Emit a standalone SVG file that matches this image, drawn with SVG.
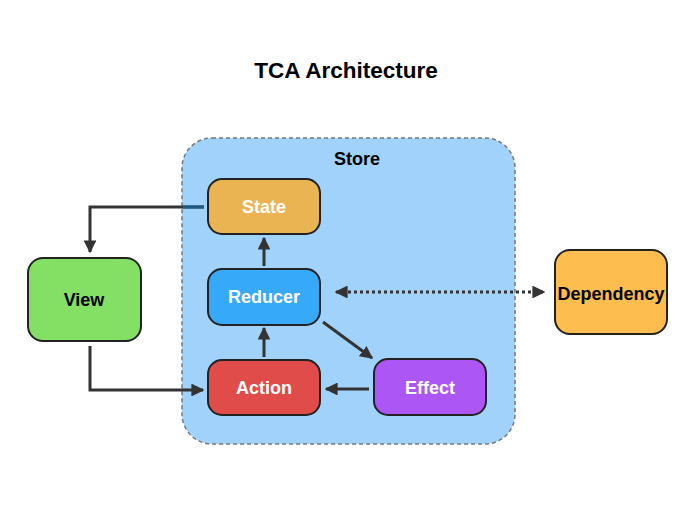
<svg xmlns="http://www.w3.org/2000/svg" width="700" height="506" viewBox="0 0 700 506">
<style>
text{font-family:"Liberation Sans",Arial,sans-serif;font-weight:bold;text-anchor:middle;dominant-baseline:central}
.node{stroke:#222;stroke-width:2}
.lbl{font-size:18px;fill:#fff}
.dk{fill:#000}
.c{fill:none;stroke:#333;stroke-width:3}
</style>
<defs>
<marker id="ah" viewBox="0 0 10 10" refX="9" refY="5" markerWidth="4.3" markerHeight="4.3" orient="auto-start-reverse" markerUnits="strokeWidth">
<path d="M0,0 L10,5 L0,10 z" fill="#333"/>
</marker>
</defs>
<rect width="700" height="506" fill="#fff"/>
<text x="346" y="70" font-size="22.5" fill="#000">TCA Architecture</text>
<g id="store">
<rect x="182" y="138" width="333" height="306" rx="30" fill="#a0d2fc" stroke="#777" stroke-width="1.5" stroke-dasharray="4 3"/>
<text x="357" y="159" font-size="18" fill="#000">Store</text>
</g>
<g id="connectors">
<path class="c" d="M204,207 H90 V252" marker-end="url(#ah)"/>
<path d="M183,207 H204" fill="none" stroke="#1e5a86" stroke-width="3"/>
<path class="c" d="M90,346 V390 H203" marker-end="url(#ah)"/>
<path class="c" d="M264,266 V238" marker-end="url(#ah)"/>
<path class="c" d="M264,357 V328" marker-end="url(#ah)"/>
<path class="c" d="M323,322 L372,358" marker-end="url(#ah)"/>
<path class="c" d="M369,389 H326" marker-end="url(#ah)"/>
<path class="c" d="M336,292 H544" stroke-dasharray="3 3" marker-start="url(#ah)" marker-end="url(#ah)"/>
</g>
<g id="state">
<rect class="node" x="208" y="179" width="112" height="55" rx="14" fill="#ebb452"/>
<text class="lbl" x="264" y="207">State</text>
</g>
<g id="reducer">
<rect class="node" x="208" y="269" width="112" height="56" rx="14" fill="#36a9f9"/>
<text class="lbl" x="264" y="297">Reducer</text>
</g>
<g id="action">
<rect class="node" x="208" y="360" width="112" height="55" rx="14" fill="#e04c4a"/>
<text class="lbl" x="264" y="388">Action</text>
</g>
<g id="effect">
<rect class="node" x="374" y="359" width="112" height="56" rx="14" fill="#ac56f6"/>
<text class="lbl" x="430" y="388">Effect</text>
</g>
<g id="view">
<rect class="node" x="28" y="258" width="113" height="83" rx="15" fill="#84df65"/>
<text class="lbl dk" x="84" y="300">View</text>
</g>
<g id="dependency">
<rect class="node" x="555" y="250" width="112" height="84" rx="15" fill="#fdbd4f"/>
<text class="lbl dk" x="611" y="294">Dependency</text>
</g>
</svg>
